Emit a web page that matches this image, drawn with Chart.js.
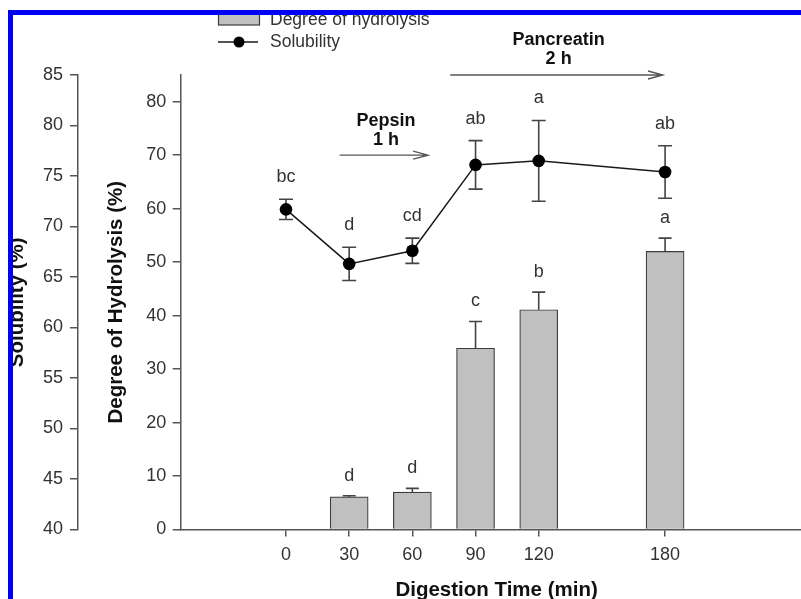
<!DOCTYPE html>
<html>
<head>
<meta charset="utf-8">
<script src="https://cdn.jsdelivr.net/npm/chart.js@4.4.0/dist/chart.umd.min.js"></script>
<style>
html,body{margin:0;padding:0;background:#fff;overflow:hidden;width:801px;height:599px;}
#wrap{position:relative;width:801px;height:599px;overflow:hidden;background:#fff;}
#c{position:absolute;left:0;top:0;}
#frame{position:absolute;left:8px;top:10px;width:900px;height:700px;border-left:5px solid #0000f2;border-top:5px solid #0000f2;pointer-events:none;}
</style>
</head>
<body>
<div id="wrap"><canvas id="c" width="830" height="610"></canvas><div id="frame"></div></div>
<script>
// ---- data ----
const times = [0, 30, 60, 90, 120, 180];
const xTickValues = [0, 30, 60, 90, 120, 180];
const hydrolysis = [null, 6.1, 7.0, 33.9, 41.1, 52.0];
const hydrolysisErr = [null, 0.2, 0.7, 5.0, 3.3, 2.5];
const hydrolysisLetters = ['', 'd', 'd', 'c', 'b', 'a'];
const solubility = [71.7, 66.3, 67.6, 76.1, 76.5, 75.4];
const solubilityErr = [1.0, 1.65, 1.25, 2.4, 4.0, 2.6];
const solubilityLetters = ['bc', 'd', 'cd', 'ab', 'a', 'ab'];
const phaseNames = ['Pepsin', 'Pancreatin'];
const phaseDurations = ['1 h', '2 h'];
const phaseStart = [25.5, 78];
const phaseEnd = [67.5, 179];
const phaseLevel = [70, 85];
const solTicks = [40, 45, 50, 55, 60, 65, 70, 75, 80, 85];
const dhTicks = [0, 10, 20, 30, 40, 50, 60, 70, 80];

const FAM = '"Liberation Sans", Arial, Helvetica, sans-serif';
const AXIS_COLOR = '#555';
const TEXT_COLOR = '#333';

const errorBarPlugin = {
  id: 'errorBars',
  beforeDatasetsDraw(chart) {
    const ctx = chart.ctx, x = chart.scales.x, ys = chart.scales.ySol;
    ctx.save();
    ctx.strokeStyle = '#444';
    ctx.lineWidth = 1.6;
    times.forEach((t, i) => {
      const px = x.getPixelForValue(t);
      const hi = ys.getPixelForValue(solubility[i] + solubilityErr[i]);
      const lo = ys.getPixelForValue(solubility[i] - solubilityErr[i]);
      ctx.beginPath();
      ctx.moveTo(px, hi); ctx.lineTo(px, lo);
      ctx.moveTo(px - 7, hi); ctx.lineTo(px + 7, hi);
      ctx.moveTo(px - 7, lo); ctx.lineTo(px + 7, lo);
      ctx.stroke();
    });
    ctx.restore();
  },
  afterDatasetsDraw(chart) {
    const ctx = chart.ctx, x = chart.scales.x, yd = chart.scales.yDH;
    ctx.save();
    ctx.strokeStyle = '#444';
    ctx.lineWidth = 1.6;
    times.forEach((t, i) => {
      if (hydrolysis[i] == null) return;
      const px = x.getPixelForValue(t);
      const top = yd.getPixelForValue(hydrolysis[i]);
      const hi = yd.getPixelForValue(hydrolysis[i] + hydrolysisErr[i]);
      ctx.beginPath();
      ctx.moveTo(px, top); ctx.lineTo(px, hi);
      ctx.moveTo(px - 6.5, hi); ctx.lineTo(px + 6.5, hi);
      ctx.stroke();
    });
    ctx.restore();
  }
};

const annotationPlugin = {
  id: 'annotations',
  afterDraw(chart) {
    const ctx = chart.ctx, x = chart.scales.x, ys = chart.scales.ySol, yd = chart.scales.yDH;
    ctx.save();
    ctx.fillStyle = TEXT_COLOR;
    ctx.textAlign = 'center';
    ctx.textBaseline = 'middle';
    ctx.font = '18px ' + FAM;
    times.forEach((t, i) => {
      const px = x.getPixelForValue(t);
      const py = ys.getPixelForValue(solubility[i] + solubilityErr[i]) - 22;
      ctx.fillText(solubilityLetters[i], px, py);
      if (hydrolysis[i] != null && hydrolysisLetters[i]) {
        const by = yd.getPixelForValue(hydrolysis[i] + hydrolysisErr[i]) - 20;
        ctx.fillText(hydrolysisLetters[i], px, by);
      }
    });
    // phase arrows
    phaseNames.forEach((name, k) => {
      const x1 = x.getPixelForValue(phaseStart[k]);
      const x2 = x.getPixelForValue(phaseEnd[k]);
      const y = yd.getPixelForValue(phaseLevel[k]);
      ctx.strokeStyle = '#555';
      ctx.lineWidth = 1.3;
      ctx.beginPath();
      ctx.moveTo(x1, y); ctx.lineTo(x2, y);
      ctx.moveTo(x2 - 15, y - 4); ctx.lineTo(x2, y); ctx.lineTo(x2 - 15, y + 4);
      ctx.stroke();
      const cx = (x1 + x2) / 2 + 2;
      ctx.fillStyle = '#111';
      ctx.font = 'bold 18px ' + FAM;
      ctx.fillText(name, cx, y - 34.5);
      ctx.fillText(phaseDurations[k], cx, y - 15.5);
    });
    ctx.restore();
  }
};

const legendPlugin = {
  id: 'customLegend',
  afterDraw(chart) {
    const ctx = chart.ctx;
    const barDs = chart.data.datasets[1];
    const lineDs = chart.data.datasets[0];
    ctx.save();
    // bar entry
    ctx.fillStyle = barDs.backgroundColor;
    ctx.fillRect(218, 11, 42, 14);
    ctx.strokeStyle = barDs.borderColor;
    ctx.lineWidth = 1.2;
    ctx.strokeRect(218.5, 11.5, 41, 13.5);
    // line entry
    ctx.strokeStyle = lineDs.borderColor;
    ctx.lineWidth = 1.5;
    ctx.beginPath(); ctx.moveTo(218, 42); ctx.lineTo(258, 42); ctx.stroke();
    ctx.fillStyle = lineDs.pointBackgroundColor;
    ctx.beginPath(); ctx.arc(239, 42, 5.5, 0, Math.PI * 2); ctx.fill();
    // texts
    ctx.fillStyle = TEXT_COLOR;
    ctx.font = '17.5px ' + FAM;
    ctx.textAlign = 'left';
    ctx.textBaseline = 'alphabetic';
    ctx.fillText(barDs.label, 270, 25);
    ctx.fillText(lineDs.label, 270, 47);
    ctx.restore();
  }
};

const tickFont = { family: FAM, size: 18 };
const titleFont = { family: FAM, size: 20.5, weight: 'bold' };

new Chart(document.getElementById('c'), {
  type: 'bar',
  data: {
    datasets: [
      {
        type: 'line',
        label: 'Solubility',
        data: times.map((t, i) => ({ x: t, y: solubility[i] })),
        yAxisID: 'ySol',
        borderColor: '#1a1a1a',
        borderWidth: 1.5,
        pointRadius: 6.3,
        pointBackgroundColor: '#000',
        pointBorderColor: '#000',
        pointBorderWidth: 0,
        tension: 0,
        order: 0
      },
      {
        type: 'bar',
        label: 'Degree of hydrolysis',
        data: times.map((t, i) => ({ x: t, y: hydrolysis[i] })),
        yAxisID: 'yDH',
        backgroundColor: '#c0c0c0',
        borderColor: '#3c3c3c',
        borderWidth: 1.2,
        barThickness: 38,
        order: 1
      }
    ]
  },
  options: {
    responsive: false,
    animation: false,
    events: [],
    layout: { padding: { left: 0, top: 75, right: 17.5, bottom: 0 } },
    plugins: { legend: { display: false }, tooltip: { enabled: false } },
    scales: {
      x: {
        type: 'linear',
        position: 'bottom',
        min: -50,
        max: 250,
        offset: false,
        afterBuildTicks: s => { s.ticks = xTickValues.map(v => ({ value: v })); },
        afterFit: s => { s.height = 80.5; },
        ticks: { font: tickFont, color: TEXT_COLOR, padding: 8, maxRotation: 0, autoSkip: false, callback: v => String(v) },
        grid: { drawOnChartArea: false, drawTicks: true, tickLength: 7, color: AXIS_COLOR, lineWidth: 1.5, offset: false },
        border: { display: true, color: AXIS_COLOR, width: 1.5 },
        title: { display: true, text: 'Digestion Time (min)', font: titleFont, color: '#111', padding: { top: 0, bottom: 7 } }
      },
      yDH: {
        type: 'linear',
        position: 'left',
        weight: 0,
        min: 0,
        max: 85,
        afterBuildTicks: s => { s.ticks = dhTicks.map(v => ({ value: v })); },
        afterFit: s => { s.width = 102.7; },
        ticks: { font: tickFont, color: TEXT_COLOR, padding: 6.5 },
        grid: { drawOnChartArea: false, drawTicks: true, tickLength: 8, color: AXIS_COLOR, lineWidth: 1.5 },
        border: { display: true, color: AXIS_COLOR, width: 1.5 },
        title: { display: true, text: 'Degree of Hydrolysis (%)', font: titleFont, color: '#111', padding: { top: 26.5, bottom: 0 } }
      },
      ySol: {
        type: 'linear',
        position: 'left',
        weight: 1,
        min: 40,
        max: 85,
        afterBuildTicks: s => { s.ticks = solTicks.map(v => ({ value: v })); },
        afterFit: s => { s.width = 78; },
        ticks: { font: tickFont, color: TEXT_COLOR, padding: 7 },
        grid: { drawOnChartArea: false, drawTicks: true, tickLength: 8, color: AXIS_COLOR, lineWidth: 1.5 },
        border: { display: true, color: AXIS_COLOR, width: 1.5 },
        title: { display: true, text: 'Solubility (%)', font: titleFont, color: '#111', padding: { top: 5.5, bottom: 0 } }
      }
    }
  },
  plugins: [errorBarPlugin, annotationPlugin, legendPlugin]
});
</script>
</body>
</html>
